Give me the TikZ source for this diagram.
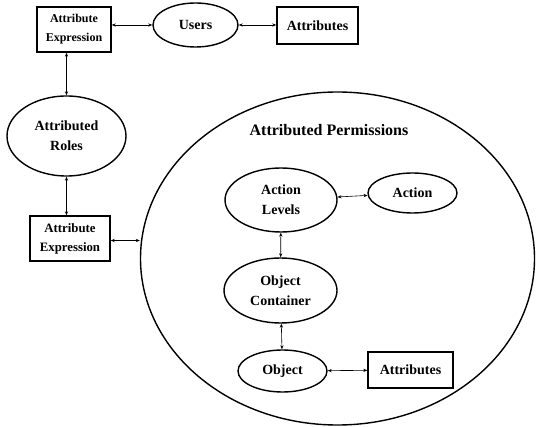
\documentclass[tikz,border=0pt]{standalone}
\usepackage{fontspec}
\setmainfont{Liberation Serif}
\usetikzlibrary{shapes.geometric,arrows.meta}
\begin{document}
\begin{tikzpicture}[x=1pt,y=-1pt,
  ell/.style={draw,ellipse,line width=1.4pt,inner sep=0pt,align=center,font=\fontsize{14}{20}\selectfont\bfseries},
  box/.style={draw,rectangle,line width=1.4pt,inner sep=0pt,align=center,font=\fontsize{12}{19}\selectfont\bfseries},
  bigbox/.style={box,font=\fontsize{14}{19}\selectfont\bfseries},
  conn/.style={line width=0.6pt,{Stealth[length=4pt,width=3.2pt]}-{Stealth[length=4pt,width=3.2pt]}}]
\useasboundingbox (0,0) rectangle (540,427);
% big circle
\node[draw,ellipse,line width=1.4pt,minimum width=394pt,minimum height=333pt,inner sep=0pt] (perm) at (337.5,258.5) {};
\node[font=\fontsize{16}{20}\selectfont\bfseries] (ptitle) at (329,130) {Attributed Permissions};
% top row
\node[box,minimum width=74pt,minimum height=45pt] (ae1) at (74,29.5) {Attribute\\Expression};
\node[ell,minimum width=85pt,minimum height=44pt] (users) at (195.5,25) {Users};
\node[bigbox,minimum width=81pt,minimum height=37pt] (attr1) at (317.5,25.5) {Attributes};
% left column
\node[ell,minimum width=119pt,minimum height=80pt] (ar) at (66.5,136) {Attributed\\Roles};
\node[box,font=\fontsize{12.8}{19}\selectfont\bfseries,minimum width=80pt,minimum height=45pt] (ae2) at (70,238.5) {Attribute\\Expression};
% inside
\node[ell,minimum width=112pt,minimum height=64pt] (al) at (281,200) {Action\\Levels};
\node[ell,minimum width=89pt,minimum height=40pt] (act) at (412.5,193) {Action};
\node[ell,minimum width=113pt,minimum height=65pt] (oc) at (280.5,290.5) {Object\\Container};
\node[ell,minimum width=89pt,minimum height=42pt] (obj) at (282.5,371) {Object};
\node[bigbox,minimum width=85pt,minimum height=36pt] (attr2) at (410.5,370) {Attributes};
% connectors
\draw[conn] (ae1.east |- users) -- (users.west);
\draw[conn] (users.east) -- (attr1.west |- users);
\draw[conn] (ar.north |- ae1.south) -- (ar.north);
\draw[conn] (ar.south) -- (ar.south |- ae2.north);
\draw[conn] ([yshift=-2pt]ae2.east) -- ([yshift=-2pt]ae2.east -| perm.west);
\draw[conn] (al) -- (act);
\draw[conn] (al) -- (oc);
\draw[conn] (oc) -- (obj);
\draw[conn] (obj) -- (attr2);
\end{tikzpicture}
\end{document}
